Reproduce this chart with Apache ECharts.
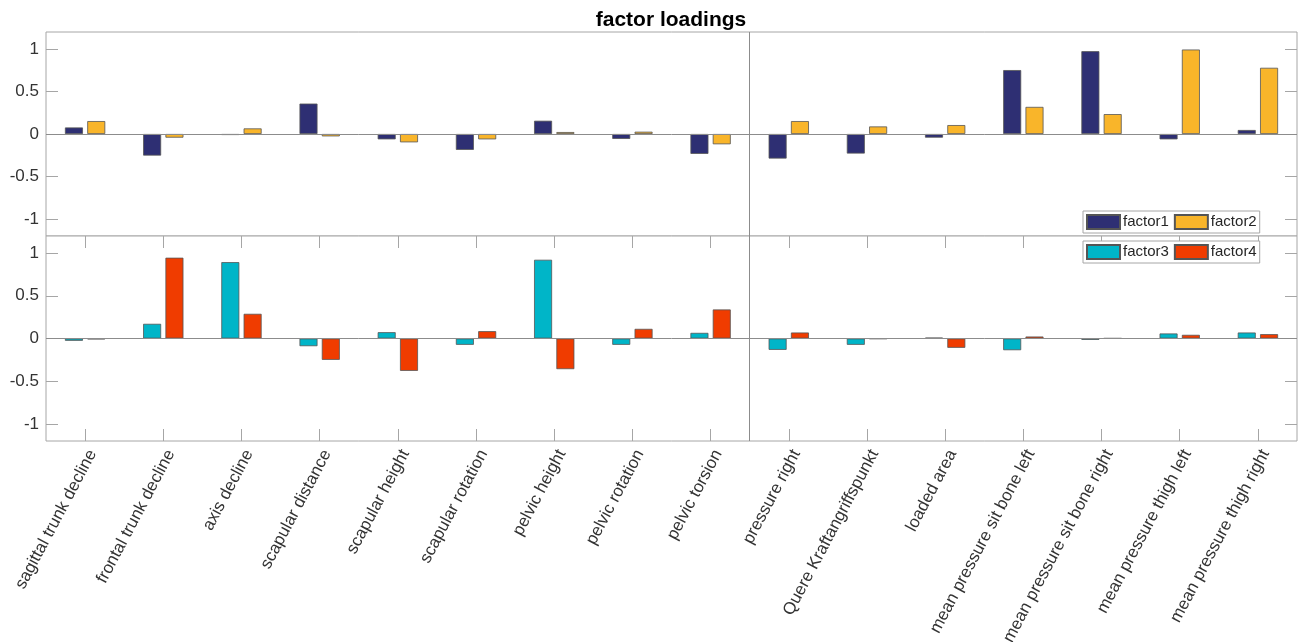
<!DOCTYPE html>
<html>
<head>
<meta charset="utf-8">
<title>factor loadings</title>
<script src="https://cdn.jsdelivr.net/npm/echarts@6/dist/echarts.min.js"></script>
<style>
  html, body { margin: 0; padding: 0; background: #ffffff; }
  #chart { width: 1300px; height: 642px; }
</style>
</head>
<body>
<div id="chart"></div>
<script>
// Variables (posture parameters, then seat pressure parameters)
const categories = [
  'sagittal trunk decline', 'frontal trunk decline', 'axis decline',
  'scapular distance', 'scapular height', 'scapular rotation',
  'pelvic height', 'pelvic rotation', 'pelvic torsion',
  'pressure right', 'Quere Kraftangriffspunkt', 'loaded area',
  'mean pressure sit bone left', 'mean pressure sit bone right',
  'mean pressure thigh left', 'mean pressure thigh right'
];

// Loadings per factor
const factor1 = [0.077, -0.254, -0.012, 0.358, -0.063, -0.187, 0.156, -0.058, -0.234,
                 -0.289, -0.230, -0.043, 0.752, 0.974, -0.063, 0.047];
const factor2 = [0.152, -0.043, 0.066, -0.028, -0.098, -0.063, 0.023, 0.027, -0.121,
                 0.152, 0.089, 0.105, 0.319, 0.234, 0.994, 0.779];
const factor3 = [-0.027, 0.172, 0.894, -0.090, 0.074, -0.074, 0.922, -0.074, 0.066,
                 -0.133, -0.074, 0.010, -0.137, -0.016, 0.059, 0.070];
const factor4 = [-0.010, 0.946, 0.289, -0.250, -0.379, 0.086, -0.359, 0.113, 0.340,
                 0.070, -0.005, -0.109, 0.023, 0.003, 0.043, 0.051];

// Y axis tick values
const yTicks = [-1, -0.5, 0, 0.5, 1];
// Number of posture variables; the group divider sits after them
const groupSplitIndex = 9;

const FONT = '"Liberation Sans", Arial, Helvetica, sans-serif';
const AXIS_COLOR = '#a6a6a6';
const TEXT_COLOR = '#333333';
const COLORS = { f1: '#2e2f73', f2: '#f9b52a', f3: '#00b5c8', f4: '#f03c00' };

const chart = echarts.init(document.getElementById('chart'), null, { renderer: 'canvas' });

const gridBase = {
  left: 46, width: 1251, show: true, borderColor: AXIS_COLOR, borderWidth: 1,
  backgroundColor: '#ffffff', containLabel: false, outerBoundsMode: 'none'
};

function yAxisFor(gridIndex, side, labels) {
  return {
    type: 'value', gridIndex: gridIndex, position: side,
    min: -1.2, max: 1.2,
    axisLine: { show: false },
    splitLine: { show: false },
    axisTick: { show: true, inside: true, length: 12, customValues: yTicks, lineStyle: { color: AXIS_COLOR } },
    axisLabel: {
      show: labels, customValues: yTicks, margin: 7,
      color: TEXT_COLOR, fontFamily: FONT, fontSize: 17
    }
  };
}

// Hidden linear axis spanning the category slots, used to place the group divider
function slotAxis(gridIndex) {
  return {
    type: 'value', gridIndex: gridIndex, min: 0, max: categories.length,
    show: false, position: 'top'
  };
}

function barSeries(name, data, color, xi, yi, withBaseline) {
  const s = {
    name: name, type: 'bar', data: data,
    xAxisIndex: xi, yAxisIndex: yi,
    barWidth: 18, barGap: '24%',
    itemStyle: { color: color, borderColor: '#555555', borderWidth: 0.8 },
    emphasis: { disabled: true },
    animation: false
  };
  if (withBaseline) {
    s.markLine = {
      silent: true, symbol: 'none', animation: false,
      label: { show: false },
      lineStyle: { color: '#8c8c8c', width: 1, type: 'solid' },
      data: [{ yAxis: 0 }]
    };
  }
  return s;
}

function dividerSeries(xi, yi) {
  return {
    type: 'line', data: [], xAxisIndex: xi, yAxisIndex: yi,
    silent: true, animation: false,
    markLine: {
      silent: true, symbol: 'none', animation: false,
      label: { show: false },
      lineStyle: { color: '#8c8c8c', width: 1, type: 'solid' },
      data: [{ xAxis: groupSplitIndex }]
    }
  };
}

const legendBase = {
  orient: 'horizontal',
  left: 1083, width: 177,
  icon: 'rect', itemWidth: 33, itemHeight: 14, itemGap: 5,
  padding: [3, 3, 3, 3],
  borderColor: '#a6a6a6', borderWidth: 1, backgroundColor: '#ffffff',
  textStyle: { fontFamily: FONT, fontSize: 15, color: '#262626', padding: [0, 0, 0, -2] },
  selectedMode: false
};

const option = {
  animation: false,
  backgroundColor: '#ffffff',
  title: {
    text: 'factor loadings',
    left: 671, top: 10, textAlign: 'center', padding: 0,
    textStyle: { fontFamily: FONT, fontSize: 21, fontWeight: 'bold', color: '#000000' }
  },
  legend: [
    Object.assign({}, legendBase, { top: 211, data: ['factor1', 'factor2'] }),
    Object.assign({}, legendBase, { top: 241, data: ['factor3', 'factor4'] })
  ],
  grid: [
    Object.assign({}, gridBase, { top: 32, height: 204 }),
    Object.assign({}, gridBase, { top: 236, height: 205 })
  ],
  xAxis: [
    // upper panel: no ticks or labels
    {
      type: 'category', gridIndex: 0, data: categories, position: 'bottom',
      axisLine: { show: false }, axisTick: { show: false }, axisLabel: { show: false },
      splitLine: { show: false }
    },
    // lower panel, bottom edge: ticks and rotated labels
    {
      type: 'category', gridIndex: 1, data: categories, position: 'bottom',
      axisLine: { show: false, onZero: false },
      axisTick: { show: true, inside: true, length: 12, interval: 0, alignWithLabel: true, lineStyle: { color: AXIS_COLOR } },
      axisLabel: {
        show: true, interval: 0, rotate: 62, margin: 6, verticalAlign: 'top',
        color: TEXT_COLOR, fontFamily: FONT, fontSize: 17
      },
      splitLine: { show: false }
    },
    // lower panel, top edge: mirrored ticks
    {
      type: 'category', gridIndex: 1, data: categories, position: 'top',
      axisLine: { show: false, onZero: false },
      axisTick: { show: true, inside: true, length: 12, interval: 0, alignWithLabel: true, lineStyle: { color: AXIS_COLOR } },
      axisLabel: { show: false },
      splitLine: { show: false }
    },
    slotAxis(0),
    slotAxis(1)
  ],
  yAxis: [
    yAxisFor(0, 'left', true),
    yAxisFor(0, 'right', false),
    yAxisFor(1, 'left', true),
    yAxisFor(1, 'right', false)
  ],
  series: [
    barSeries('factor1', factor1, COLORS.f1, 0, 0, true),
    barSeries('factor2', factor2, COLORS.f2, 0, 0, false),
    barSeries('factor3', factor3, COLORS.f3, 1, 2, true),
    barSeries('factor4', factor4, COLORS.f4, 1, 2, false),
    dividerSeries(3, 0),
    dividerSeries(4, 2)
  ]
};

chart.setOption(option);
</script>
</body>
</html>
